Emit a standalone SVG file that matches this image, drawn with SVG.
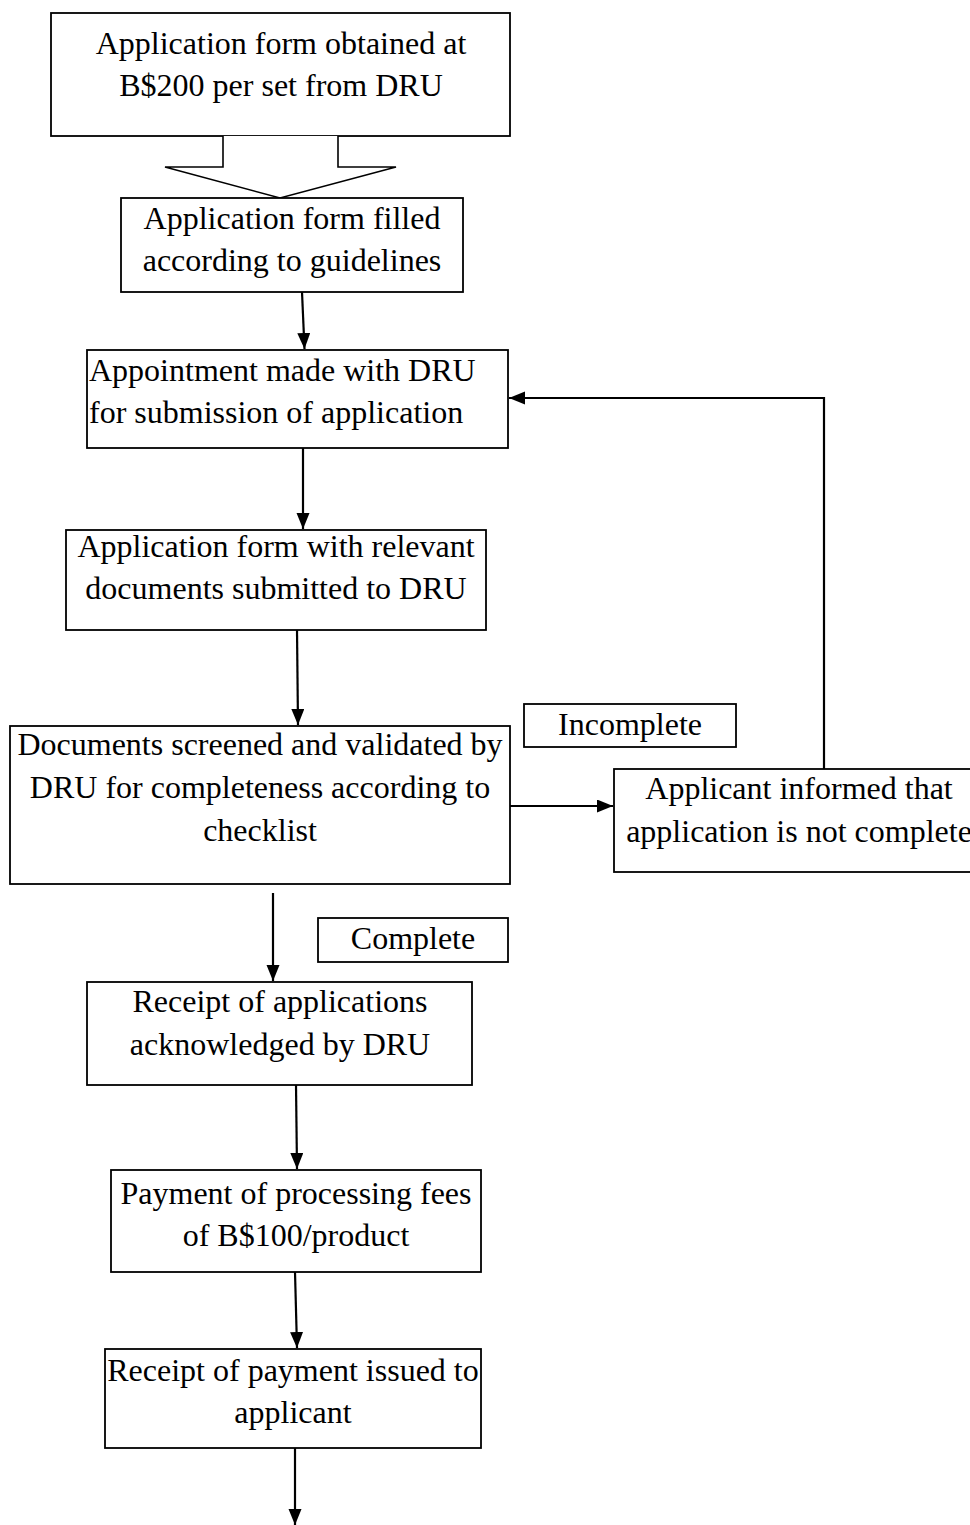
<svg xmlns="http://www.w3.org/2000/svg" width="970" height="1525" viewBox="0 0 970 1525">
<style>
.box{fill:#fff;stroke:#000;stroke-width:1.8}
.t{font-family:"Liberation Serif","Times New Roman",serif;font-size:32px;fill:#000}
.c{text-anchor:middle}
.con{fill:none;stroke:#000;stroke-width:2.2}
</style>
<defs>
<marker id="ah" markerUnits="userSpaceOnUse" markerWidth="18" markerHeight="14" refX="16" refY="6.5" orient="auto">
<path d="M0,0 L16,6.5 L0,13 Z" fill="#000"/>
</marker>
</defs>
<rect width="970" height="1525" fill="#fff"/>
<g id="connectors">
<path class="con" d="M302,292 L304.5,349" marker-end="url(#ah)"/>
<path class="con" d="M303,448 L303,529" marker-end="url(#ah)"/>
<path class="con" d="M297,630 L298,725" marker-end="url(#ah)"/>
<path class="con" d="M510,806 L613,806" marker-end="url(#ah)"/>
<path class="con" d="M824,769 L824,398 L509,398" marker-end="url(#ah)"/>
<path class="con" d="M273,893 L273,981" marker-end="url(#ah)"/>
<path class="con" d="M296,1085 L297,1169" marker-end="url(#ah)"/>
<path class="con" d="M295,1272 L297,1348" marker-end="url(#ah)"/>
<path class="con" d="M295,1448 L295,1525" marker-end="url(#ah)"/>
</g>
<g id="n1">
<rect class="box" x="51" y="13" width="459" height="123"/>
<text class="t c" x="281" y="54">Application form obtained at</text>
<text class="t c" x="281" y="96">B$200 per set from DRU</text>
</g>
<g id="blockarrow">
<path d="M223,136 L223,167 L165,167 L280,198 L396,167 L338,167 L338,136" fill="#fff" stroke="#000" stroke-width="1.6"/>
</g>
<g id="n2">
<rect class="box" x="121" y="198" width="342" height="94"/>
<text class="t c" x="292" y="229">Application form filled</text>
<text class="t c" x="292" y="271">according to guidelines</text>
</g>
<g id="n3">
<rect class="box" x="87" y="350" width="421" height="98"/>
<text class="t" x="89" y="381">Appointment made with DRU</text>
<text class="t" x="89" y="423">for submission of application</text>
</g>
<g id="n4">
<rect class="box" x="66" y="530" width="420" height="100"/>
<text class="t c" x="276" y="557">Application form with relevant</text>
<text class="t c" x="276" y="599">documents submitted to DRU</text>
</g>
<g id="n5">
<rect class="box" x="10" y="726" width="500" height="158"/>
<text class="t c" x="260" y="755">Documents screened and validated by</text>
<text class="t c" x="260" y="798">DRU for completeness according to</text>
<text class="t c" x="260" y="841">checklist</text>
</g>
<g id="lbl-incomplete">
<rect class="box" x="524" y="704" width="212" height="43"/>
<text class="t c" x="630" y="735">Incomplete</text>
</g>
<g id="n6">
<rect class="box" x="614" y="769" width="370" height="103"/>
<text class="t c" x="799" y="799">Applicant informed that</text>
<text class="t c" x="799" y="842">application is not complete</text>
</g>
<g id="lbl-complete">
<rect class="box" x="318" y="918" width="190" height="44"/>
<text class="t c" x="413" y="949">Complete</text>
</g>
<g id="n7">
<rect class="box" x="87" y="982" width="385" height="103"/>
<text class="t c" x="280" y="1012">Receipt of applications</text>
<text class="t c" x="280" y="1055">acknowledged by DRU</text>
</g>
<g id="n8">
<rect class="box" x="111" y="1170" width="370" height="102"/>
<text class="t c" x="296" y="1204">Payment of processing fees</text>
<text class="t c" x="296" y="1246">of B$100/product</text>
</g>
<g id="n9">
<rect class="box" x="105" y="1349" width="376" height="99"/>
<text class="t c" x="293" y="1381">Receipt of payment issued to</text>
<text class="t c" x="293" y="1423">applicant</text>
</g>
</svg>
